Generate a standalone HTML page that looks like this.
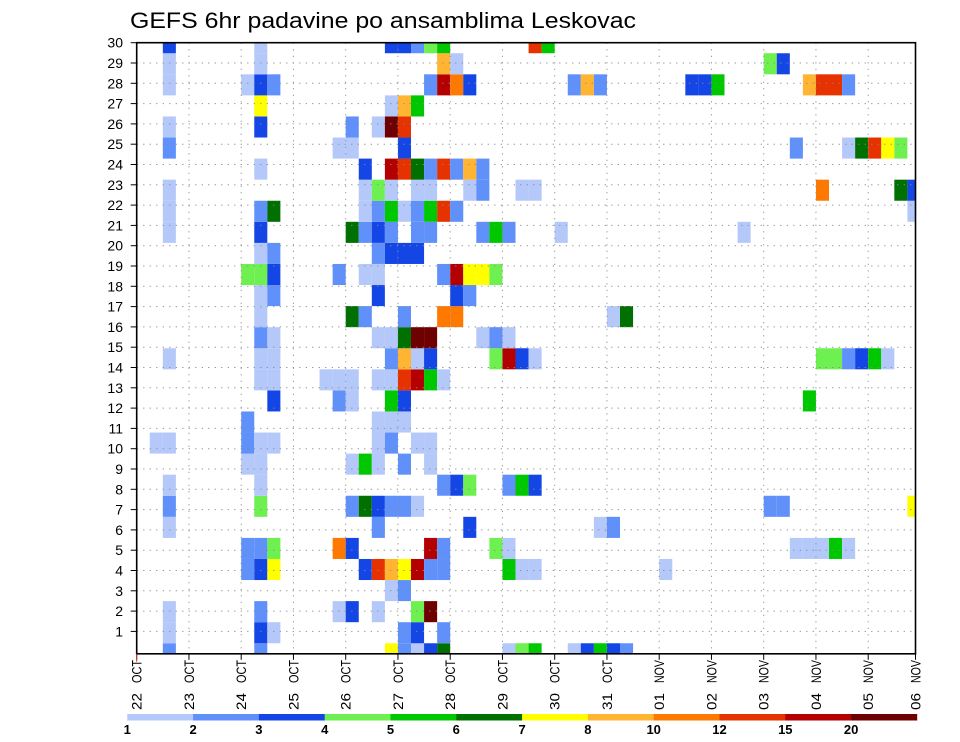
<!DOCTYPE html>
<html><head><meta charset="utf-8"><style>
html,body{margin:0;padding:0;background:#fff;}
svg{display:block;font-family:"Liberation Sans",sans-serif;}
</style></head><body>
<svg id="chart" width="960" height="742" viewBox="0 0 960 742" xmlns="http://www.w3.org/2000/svg">
<text x="130" y="28" font-size="22" textLength="506" lengthAdjust="spacingAndGlyphs" fill="#000">GEFS 6hr padavine po ansamblima Leskovac</text>
<g id="cells"></g>
<g id="grid"></g>
<g id="axes"></g>
<g id="colorbar"></g>
</svg>
<script>
// ---- data ----
const dayLabels = ["22 OCT","23 OCT","24 OCT","25 OCT","26 OCT","27 OCT","28 OCT","29 OCT","30 OCT","31 OCT","01 NOV","02 NOV","03 NOV","04 NOV","05 NOV","06 NOV"];
const memberTicks = [1,2,3,4,5,6,7,8,9,10,11,12,13,14,15,16,17,18,19,20,21,22,23,24,25,26,27,28,29,30];
const levelBounds = [1,2,3,4,5,6,7,8,10,12,15,20];
const levelColors = ["#b4c8fa","#6090fa","#1446e6","#6ef050","#00c800","#007000","#ffff00","#ffb432","#ff7800","#e63200","#b40000","#6e0000"];
// member index 0 = bottom row, 29 = top row; steps are 6-hourly from 22 OCT 00Z
const memberSteps = [
 [2,9,19,20,21,22,23,28,29,30,33,34,35,36,37],
 [2,9,10,20,21,23],
 [2,9,15,16,18,21,22],
 [19,20],
 [8,9,10,17,18,19,20,21,22,23,28,29,30,40],
 [8,9,10,15,16,22,23,27,28,50,51,52,53,54],
 [2,18,25,35,36],
 [2,9,16,17,18,19,20,21,48,49,59],
 [2,9,23,24,25,28,29,30],
 [8,9,16,17,18,20,22],
 [1,2,8,9,10,18,19,21,22],
 [8,18,19,20],
 [10,15,16,19,20,51],
 [9,10,14,15,16,18,19,20,21,22,23],
 [2,9,10,19,20,21,22,27,28,29,30,52,53,54,55,56,57],
 [9,10,18,19,20,21,22,26,27,28],
 [9,16,17,20,23,24,36,37],
 [9,10,18,24,25],
 [8,9,10,15,17,18,23,24,25,26,27],
 [9,10,18,19,20,21],
 [2,9,16,17,18,19,21,22,26,27,28,32,46],
 [2,9,10,17,18,19,20,21,22,23,24,59],
 [2,17,18,19,21,22,25,26,29,30,52,58,59],
 [9,17,19,20,21,22,23,24,25,26],
 [2,15,16,20,50,54,55,56,57,58],
 [2,9,16,18,19,20],
 [9,19,20,21],
 [2,8,9,10,22,23,24,25,33,34,35,42,43,44,51,52,53,54],
 [2,9,23,24,48,49],
 [2,9,19,20,21,22,23,30,31]
];
const memberValues = [
 [2.5,2.5,7.5,2.5,1.5,3.5,6.5,1.5,4.5,5.5,1.5,3.5,5.5,3.5,2.5],
 [1.5,3.5,1.5,2.5,3.5,2.5],
 [1.5,2.5,1.5,3.5,1.5,4.5,25],
 [1.5,2.5],
 [2.5,3.5,7.5,3.5,13.5,9,7.5,17.5,2.5,2.5,5.5,1.5,1.5,1.5],
 [2.5,2.5,4.5,11,3.5,17.5,2.5,4.5,1.5,1.5,1.5,1.5,5.5,1.5],
 [1.5,2.5,3.5,1.5,2.5],
 [2.5,4.5,2.5,6.5,3.5,2.5,2.5,1.5,2.5,2.5,7.5],
 [1.5,1.5,2.5,3.5,4.5,2.5,5.5,3.5],
 [1.5,1.5,1.5,5.5,1.5,2.5,1.5],
 [1.5,1.5,2.5,1.5,1.5,1.5,2.5,1.5,1.5],
 [2.5,1.5,1.5,1.5],
 [3.5,2.5,1.5,5.5,3.5,5.5],
 [1.5,1.5,1.5,1.5,1.5,1.5,1.5,13.5,17.5,5.5,1.5],
 [1.5,1.5,1.5,2.5,9,1.5,3.5,4.5,17.5,3.5,1.5,4.5,4.5,2.5,3.5,5.5,1.5],
 [2.5,1.5,1.5,1.5,6.5,25,25,1.5,2.5,1.5],
 [1.5,6.5,2.5,2.5,11,11,1.5,6.5],
 [1.5,2.5,3.5,3.5,2.5],
 [4.5,4.5,3.5,2.5,1.5,1.5,2.5,17.5,7.5,7.5,4.5],
 [1.5,2.5,2.5,3.5,3.5,3.5],
 [1.5,3.5,6.5,2.5,3.5,2.5,2.5,2.5,2.5,5.5,2.5,1.5,1.5],
 [1.5,2.5,6.5,1.5,2.5,5.5,1.5,2.5,5.5,13.5,2.5,1.5],
 [1.5,1.5,4.5,1.5,1.5,1.5,1.5,2.5,1.5,1.5,11,6.5,3.5],
 [1.5,3.5,17.5,13.5,6.5,2.5,13.5,2.5,9,2.5],
 [2.5,1.5,1.5,3.5,2.5,1.5,6.5,13.5,7.5,4.5],
 [1.5,3.5,2.5,1.5,25,13.5],
 [7.5,1.5,9,5.5],
 [1.5,1.5,3.5,2.5,2.5,17.5,11,3.5,2.5,9,2.5,3.5,3.5,5.5,9,13.5,13.5,2.5],
 [1.5,1.5,9,1.5,4.5,3.5],
 [3.5,1.5,3.5,3.5,2.5,4.5,5.5,13.5,5.5]
];

// ---- layout ----
const NS = "http://www.w3.org/2000/svg";
const PL = 136.7, PR = 915.5, PT = 42.7, PB = 653.8;
const DAY = 52.25, STEP = DAY / 4;
const nMembers = memberSteps.length;
const ROWH = (PB - PT) / (nMembers - 1);
function xStep(s) { return PL + s * STEP; }
function yMember(m) { return PB - m * ROWH; }
function yTick(k) { return PT + (30 - k) * 20.3; }
function xDay(d) { return Math.min(PL + d * DAY, PR); }
function colorFor(v) {
  let idx = 0;
  for (let i = 0; i < levelBounds.length; i++) if (v >= levelBounds[i]) idx = i;
  return levelColors[idx];
}
function mk(tag, attrs, parent) {
  const e = document.createElementNS(NS, tag);
  for (const k in attrs) e.setAttribute(k, attrs[k]);
  parent.appendChild(e);
  return e;
}

// clip
const defs = mk("defs", {}, document.getElementById("chart"));
const cp = mk("clipPath", {id: "plotclip"}, defs);
mk("rect", {x: PL, y: PT, width: PR - PL, height: PB - PT}, cp);

// cells
const gc = document.getElementById("cells");
gc.setAttribute("clip-path", "url(#plotclip)");
for (let m = 0; m < nMembers; m++) {
  const steps = memberSteps[m], vals = memberValues[m];
  for (let i = 0; i < steps.length; i++) {
    const r = mk("rect", {x: xStep(steps[i]).toFixed(2), y: (yMember(m) - ROWH / 2).toFixed(2),
      width: STEP.toFixed(2), height: ROWH.toFixed(2), fill: colorFor(vals[i])}, gc);
    
    
  }
}

// grid
const gg = document.getElementById("grid");
for (let k = 1; k <= 29; k++) {
  const y = yTick(k);
  const l = mk("line", {x1: PL, x2: PR, y1: y, y2: y, stroke: "#8a8a8a", "stroke-width": 1, "stroke-dasharray": "1.2,5.3"}, gg);
  
  
}
for (let d = 1; d < 15; d++) {
  const x = xDay(d);
  const l = mk("line", {x1: x, x2: x, y1: PT, y2: PB, stroke: "#8a8a8a", "stroke-width": 1, "stroke-dasharray": "1.2,5.3"}, gg);
  
  
}

// axes
const ga = document.getElementById("axes");
const frame = mk("rect", {x: PL, y: PT, width: PR - PL, height: PB - PT, fill: "none", stroke: "#000", "stroke-width": 1.6}, ga);


for (let i = 0; i < memberTicks.length; i++) {
  const k = memberTicks[i], y = yTick(k);
  const t = mk("line", {x1: PL - 6, x2: PL, y1: y, y2: y, stroke: "#000", "stroke-width": 1}, ga);
  
  
  const tx = mk("text", {x: 123, y: y + 5, "text-anchor": "end", "font-size": 14, fill: "#000"}, ga);
  tx.textContent = String(k);
  
  
}
for (let d = 0; d < dayLabels.length; d++) {
  const x = d === 15 ? PR : xDay(d);
  const t = mk("line", {x1: x, x2: x, y1: PB, y2: PB + 6, stroke: "#000", "stroke-width": 1}, ga);
  
  
  const parts = dayLabels[d].split(" ");
  const g = mk("g", {transform: "translate(" + (x + 5).toFixed(1) + ",710) rotate(-90)"}, ga);
  
  
  const t1 = mk("text", {x: 0, y: 0, "font-size": 14, fill: "#000", textLength: 17, lengthAdjust: "spacingAndGlyphs"}, g);
  t1.textContent = parts[0];
  const t2 = mk("text", {x: 27, y: 0, "font-size": 14, fill: "#000", textLength: 23, lengthAdjust: "spacingAndGlyphs"}, g);
  t2.textContent = parts[1];
}
const redMark = mk("line", {x1: PL, x2: PL, y1: PB, y2: PB + 8, stroke: "#d03030", "stroke-width": 1}, ga);



// colorbar
const gb = document.getElementById("colorbar");
const CBL = 127.3, CBW = 65.8;
for (let i = 0; i < levelColors.length; i++) {
  const r = mk("rect", {x: CBL + i * CBW, y: 714, width: CBW + 0.3, height: 6.5, fill: levelColors[i]}, gb);
  
  
}
for (let i = 0; i < levelBounds.length; i++) {
  const t = mk("text", {x: CBL + i * CBW, y: 734, "text-anchor": "middle", "font-size": 13, "font-weight": "bold", fill: "#000"}, gb);
  t.textContent = String(levelBounds[i]);
  
  
}
</script>
</body></html>
